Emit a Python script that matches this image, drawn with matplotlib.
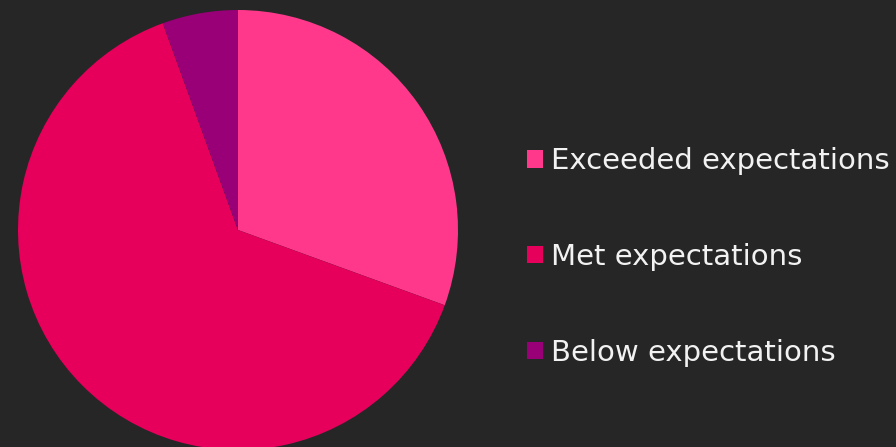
import matplotlib.pyplot as plt

labels = ["Exceeded expectations", "Met expectations", "Below expectations"]
counts = [11, 23, 2]
colors = ["#FF388C", "#E6005C", "#990078"]

W, H = 896, 447
fig = plt.figure(figsize=(W / 100, H / 100), dpi=100)
fig.patch.set_facecolor("#262626")

# pie: center at (238, 230) px from top-left, radius 220 px
r = 220
ax = fig.add_axes([(238 - r) / W, (H - 230 - r) / H, 2 * r / W, 2 * r / H])
ax.set_facecolor("#262626")
wedges, _ = ax.pie(counts, colors=colors, startangle=90, counterclock=False,
                   radius=1, wedgeprops=dict(linewidth=0))
ax.set_xlim(-1, 1)
ax.set_ylim(-1, 1)
ax.set_aspect("equal")
ax.axis("off")

leg = fig.legend(wedges, labels, loc="center left",
                 bbox_to_anchor=(527 / W, (H - 257) / H),
                 frameon=False, borderpad=0, borderaxespad=0,
                 handlelength=0.55, handleheight=0.55, handletextpad=0.28,
                 labelspacing=2.32,
                 prop=dict(family=["DejaVu Sans"], size=21))
for t in leg.get_texts():
    t.set_color("#F2F2F2")

fig.savefig("out.png", dpi=100, facecolor=fig.get_facecolor())
